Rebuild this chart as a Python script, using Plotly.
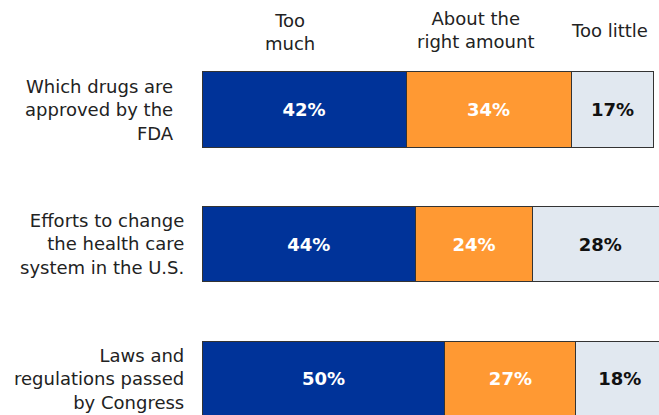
import plotly.graph_objects as go

categories = ["Which drugs are<br>approved by the<br>FDA",
              "Efforts to change<br>the health care<br>system in the U.S.",
              "Laws and<br>regulations passed<br>by Congress"]
too_much = [42, 44, 50]
about_right = [34, 24, 27]
too_little = [17, 28, 18]
series_names = ["Too<br>much", "About the<br>right amount", "Too little"]
colors = ["#003399", "#FF9933", "#E1E8F0"]
text_colors = ["white", "white", "#111111"]

FONT = "DejaVu Sans, Verdana, sans-serif"

fig = go.Figure()
for vals, name, col, tc in zip([too_much, about_right, too_little], series_names, colors, text_colors):
    fig.add_trace(go.Bar(
        y=categories, x=vals, orientation="h", name=name,
        marker=dict(color=col, line=dict(color="#333333", width=1)),
        text=[f"{v}%" for v in vals], textposition="inside",
        insidetextanchor="middle", textangle=0, constraintext="none",
        textfont=dict(family=FONT, size=18, color=tc, weight="bold"),
        width=0.558, cliponaxis=True,
    ))

H = 415
L = 202
W = 659 - L
headers = [(series_names[0], 290, 32), (series_names[1], 475, 30), (series_names[2], 609, 31)]
for txt, px, py in headers:
    fig.add_annotation(text=txt, xref="paper", yref="paper",
                       x=(px - L) / W, y=1 - py / H, xanchor="center", yanchor="middle",
                       showarrow=False, align="center",
                       font=dict(family=FONT, size=18, color="#222222"))

# row labels (right edges differ slightly in the reference)
label_right_px = [176, 186, 186]
for cat, rx in zip(categories, label_right_px):
    fig.add_annotation(text=cat, xref="paper", yref="y", x=(rx - L) / W, y=cat,
                       xanchor="right", yanchor="middle", showarrow=False, align="right",
                       font=dict(family=FONT, size=18, color="#222222"))

fig.update_layout(
    barmode="stack", width=659, height=415,
    margin=dict(l=L, r=0, t=0, b=0),
    plot_bgcolor="white", paper_bgcolor="white",
    showlegend=False,
    xaxis=dict(range=[0, 94.09], visible=False, fixedrange=True),
    yaxis=dict(range=[2.271, -0.814], showgrid=False, zeroline=False, showline=False,
               ticks="", showticklabels=False, fixedrange=True),
)

fig.write_html("out.html", config={"displayModeBar": False},
               post_script="document.body.style.margin='0';document.body.style.overflow='hidden';")
